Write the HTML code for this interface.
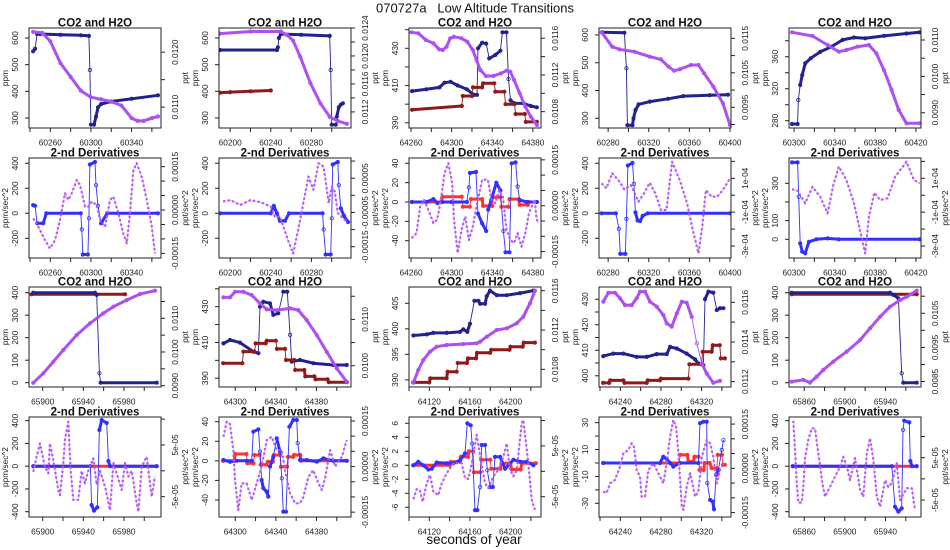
<!DOCTYPE html>
<html><head><meta charset="utf-8"><title>070727a Low Altitude Transitions</title>
<style>
html,body{margin:0;padding:0;background:#fff;}
svg{display:block;font-family:"Liberation Sans",Arial,sans-serif;}
</style></head>
<body>
<svg id="chart" width="950" height="550" viewBox="0 0 950 550" xmlns="http://www.w3.org/2000/svg">
<rect x="0" y="0" width="950" height="550" fill="#fff"/>
<text x="475" y="12.5" font-size="13" text-anchor="middle" fill="#111" xml:space="preserve">070727a   Low Altitude Transitions</text>
<text x="474" y="544" font-size="13.5" text-anchor="middle" fill="#111">seconds of year</text>
</svg>
<script>
// ---------- data: row 1 / row 2 (column 1) ----------
const p11_co2_x=[60243,60245,60247,60250,60270,60290,60298,60299,60300,60303,60305,60307,60310,60320,60340,60366];
const p11_co2_y=[550,560,615,615,612,610,608,480,275,275,305,340,352,362,372,385];
const p11_h2o_x=[60243,60252,60260,60270,60280,60290,60300,60310,60320,60330,60340,60346,60352,60360,60366];
const p11_h2o_y=[0.01237,0.01235,0.0122,0.0118,0.01155,0.0113,0.01118,0.01114,0.0111,0.01103,0.0108,0.01075,0.01075,0.0108,0.01083];
const p21_dco2_x=[60243,60245,60247,60253,60256,60290,60291,60292,60297,60298,60299,60304,60305,60307,60310,60316,60366];
const p21_dco2_y=[65,60,-80,-80,0,0,-130,-330,-330,-40,390,410,225,60,-80,0,0];
const p21_dh2o_x=[60243.2,60248.2,60254.8,60259.7,60264.6,60269.5,60274.5,60277.7,60281.1,60286,60289.2,60294.2,60297.4,60300.8,60305.7,60309,60313.9,60318.8,60322.1,60327,60331.9,60335.3,60338.5,60341.8,60345.1,60350,60355,60359.9,60363.1];
const p21_dh2o_y=[-2.9e-5,-5.8e-5,-1.04e-4,-1.33e-4,-1.04e-4,-3.5e-5,5.8e-5,3.5e-5,5.8e-5,1.04e-4,8.7e-5,1.2e-5,1.2e-5,2.9e-5,1.7e-5,-3.5e-5,-5.8e-5,3.5e-5,4.6e-5,-1.1e-5,-8.1e-5,-1.15e-4,-1.1e-5,1.38e-4,1.62e-4,1.15e-4,3.5e-5,-5.8e-5,-1.5e-4];
// column 2
const p12_co2_x=[60190,60246,60247,60248,60250,60270,60298,60299,60300,60304,60305,60307,60309,60311];
const p12_co2_y=[555,555,565,600,615,612,608,480,275,275,305,340,350,355];
const p12_co2b_x=[60190,60200,60220,60240];
const p12_co2b_y=[395,397,400,403];
const p12_h2o_x=[60190,60220,60250,60256,60262,60269,60279,60289,60298,60306,60315];
const p12_h2o_y=[0.01232,0.01235,0.01235,0.0123,0.01222,0.01199,0.01161,0.01132,0.01113,0.01107,0.01103];
const p22_dco2_x=[60190,60240,60243,60246,60249,60254,60258,60291,60292,60294,60299,60300,60301,60306,60307,60309,60312,60316];
const p22_dco2_y=[0,0,60,0,-60,-60,0,0,-130,-330,-330,-40,390,410,225,40,-20,-70];
const p22_dh2o_x=[60193,60200,60210,60220,60230,60240,60244,60249,60257,60262,60267,60272,60277,60282,60287,60292,60297,60300,60303,60306,60313,60316];
const p22_dh2o_y=[-1.8e-5,-1.4e-5,-2.8e-5,-1.4e-5,-2e-5,-3.3e-5,-6.2e-5,-6.2e-5,-1.31e-4,-1.7e-4,-1.01e-4,-2.3e-5,5.5e-5,1.6e-5,9.4e-5,8.4e-5,-2.3e-5,2.5e-5,1.1e-5,-5.2e-5,-7.2e-5,-7.7e-5];
// column 3
const p13_co2_x=[64261,64275,64288,64293,64299,64306,64315,64322,64325,64326,64330,64334,64337,64343,64348,64350,64354,64356,64358,64362,64371,64378,64384];
const p13_co2_y=[407,408,409,411.5,412,410,408,405,405,430,433,432.5,424.6,426.4,428.7,438.6,438.6,413.5,402,400.4,400.4,399,398.3];
const p13_co2b_x=[64261,64310,64311,64320,64321,64330,64331,64342,64343,64352,64353,64362,64363,64372,64373,64384];
const p13_co2b_y=[397,399,404.4,404.4,409,409,411.2,411.2,406.7,406.7,400,400,394.7,394.7,390.5,390.5];
const p13_h2o_x=[64260.6,64267.2,64274.6,64282,64287.6,64291.3,64295,64298.6,64302.3,64309.7,64315.3,64320.8,64324.5,64328.2,64333.7,64341,64348.5,64354,64357.8,64361.5,64367,64372.5,64378,64384];
const p13_h2o_y=[0.011665,0.011654,0.011581,0.011545,0.01148,0.011472,0.011508,0.0116,0.011617,0.0116,0.011563,0.011472,0.011363,0.011254,0.011189,0.011189,0.011218,0.011247,0.011236,0.011145,0.011,0.010855,0.010745,0.010655];
const p23_dco2_x=[64261,64275,64282,64286,64291,64300,64315,64317,64318,64324,64326,64330,64334,64336,64339,64344,64348,64351,64353,64357,64359,64363,64365,64367,64374,64384];
const p23_dco2_y=[0,0,3,-1,0,0,0,15,30,31,-12,-22,-30,-8,2,20,12,-30,-52,-52,40,41,16,2,0,0];
const p23_dco2b_x=[64261,64290,64291,64310,64311,64318,64319,64330,64331,64340,64341,64348,64349,64356,64357,64366,64367,64375,64376,64384];
const p23_dco2b_y=[0,0,5.5,5.5,-5,-5,3,3,-4,-4,5,5,-5,-5,3,3,-3,-3,0,0];
const p23_dh2o_x=[64260.6,64265.4,64269,64272.8,64278.3,64282,64285.7,64289.4,64293,64296.8,64300.5,64302.3,64306,64309.7,64313.4,64317,64320.8,64324.5,64330,64335.6,64339.3,64343,64346.7,64350.4,64354,64357.8,64361.5,64365,64368.8,64372.5,64376.2,64381.8,64383.6,64385];
const p23_dh2o_y=[-1.06e-4,-9e-5,-3e-6,1.9e-5,-2.4e-5,-5.7e-5,-4.6e-5,1.9e-5,1.06e-4,1.39e-4,7.4e-5,-4.6e-5,-1.55e-4,-7.9e-5,-3.5e-5,-1.12e-4,-6.8e-5,-3e-6,8.5e-5,8.5e-5,1.9e-5,8e-6,5.2e-5,3e-5,-7.9e-5,-1.12e-4,-1.22e-4,-9e-5,-1.34e-4,-9e-5,-2.4e-5,1.9e-5,-4.1e-5,-5.7e-5];
// column 4
const p14_co2_x=[60274,60296,60298,60299,60304,60305,60307,60310,60321,60339,60354,60380,60398];
const p14_co2_y=[610,608,480,275,275,300,330,350,360,370,380,383,385];
const p14_h2o_x=[60273.6,60284,60291.3,60306,60321,60332,60339.4,60345,60350.5,60361.5,60369,60374.5,60383.7,60393,60400];
const p14_h2o_y=[0.011674,0.011257,0.01118,0.011112,0.010967,0.01089,0.010677,0.010561,0.010601,0.010726,0.010726,0.010486,0.010097,0.009616,0.008987];
const p24_dco2_x=[60273.6,60287.6,60290.6,60292,60297,60298,60299.5,60304,60305.4,60306.8,60309,60311.6,60314,60319,60400];
const p24_dco2_y=[0,0,-125,-325,-325,-45,382,403,235,8,-58,-62,-20,0,0];
const p24_dh2o_x=[60273.6,60278.4,60284,60291.3,60295.8,60302.4,60309.8,60315.3,60320.9,60326.4,60332,60337.5,60343,60350.5,60357.8,60363.4,60369,60372.6,60376.3,60381.9,60387.4,60393,60400];
const p24_dh2o_y=[7e-5,4.1e-5,1.3e-4,8e-5,3.5e-5,6e-5,-3.8e-5,1.1e-5,7.4e-5,1.1e-5,-8.8e-5,-8.8e-5,1.98e-4,9e-5,-4.8e-5,-2.06e-4,-3.44e-4,-1.86e-4,3e-5,-9e-6,-9e-6,3e-5,1e-4];
// column 5
const p15_co2_x=[60298,60303.5,60304.2,60306,60308,60311,60316.4,60325.7,60336.8,60347.8,60359,60370,60388.5,60410.7,60423.6];
const p15_co2_y=[275.9,275.9,305.9,324.6,337,351.7,358,366,372.5,381,384,383,386,389,390.5];
const p15_h2o_x=[60298,60318,60333,60344,60351.5,60362.6,60373.7,60381,60388.5,60396,60403,60410.7,60423.6];
const p15_h2o_y=[0.011212,0.01111,0.010862,0.010678,0.010725,0.010816,0.010862,0.010634,0.010175,0.009624,0.009074,0.008708,0.008708];
const p25_dco2_x=[60298,60303.5,60304.6,60306,60308,60311,60314.6,60322,60333,60344,60423.6];
const p25_dco2_y=[412,412,228,-21,-66,-75,-13,0,5,0,0];
const p25_dh2o_x=[60298,60303.5,60311,60318,60325.7,60333,60338.6,60344,60351.5,60359,60365.6,60370,60373.7,60379,60384.8,60392,60399.6,60410.7,60418,60423.6];
const p25_dh2o_y=[3.5e-5,2.7e-5,-4.8e-5,5e-5,-9e-6,-1.07e-4,6e-5,1.69e-4,9e-5,-4.8e-5,-2.25e-4,-3.44e-4,-1.27e-4,1.5e-5,-2.8e-5,-1.8e-5,1.1e-4,1.98e-4,9e-5,7e-5];
// ---------- data: row 3 / row 4 ----------
const p31_co2_x=[65890.7,65951.5,65953.2,65955.8,65957,66012.3];
const p31_co2_y=[400,400,390,42,0,0];
const p31_co2b_x=[65889,65981];
const p31_co2b_y=[393,393];
const p31_h2o_x=[65890.7,65900.6,65910.4,65920.3,65933.5,65946.6,65959.7,65969.6,65982.8,65995.9,66010.6];
const p31_h2o_y=[0.009086,0.009366,0.00971,0.010058,0.010504,0.010851,0.011149,0.011345,0.011544,0.011722,0.01182];
const p41_dco2b_x=[65890.7,66012.3];
const p41_dco2b_y=[0,0];
const p41_dco2_x=[65890.7,65947,65948.2,65950.5,65953.8,65955.8,65958.1,65963,65964.7,65966.3,66012.3];
const p41_dco2_y=[0,0,-341,-391,-361,318,406,380,46,0,0];
const p41_dh2o_x=[65890.7,65894,65897.2,65902.2,65905.5,65907.1,65910.4,65915.3,65917,65920.3,65921.9,65925.2,65927.5,65930.1,65935,65938.3,65941.6,65944.9,65949.8,65953.2,65956.4,65961.4,65966.3,65969.6,65972.9,65977.8,65981,65984.4,65987.6,65992.6,65994.2,65997.5,66002.4,66005.7,66007.3,66010.6];
const p41_dh2o_y=[-2e-6,2.7e-5,5.3e-5,8e-6,-5e-6,5.3e-5,2.1e-5,-3.7e-5,-4.7e-5,1.5e-5,6e-5,9.5e-5,2e-6,-5.6e-5,-5.6e-5,0,-2.4e-5,0,2.4e-5,-2.7e-5,0,-3.1e-5,-7.6e-5,1.5e-5,-5e-6,-3.7e-5,1.5e-5,-1.1e-5,0,-6.3e-5,-7.9e-5,8e-6,2.7e-5,-2.4e-5,-5e-5,-1.1e-5];
// column 2
const p32_co2_x=[64288.3,64294.8,64304.7,64317.8,64322.8,64324.4,64327.6,64334.2,64337.5,64342.4,64347.3,64351.3,64354,64355.6,64363.8,64376.9,64396.6,64409.8];
const p32_co2_y=[409.5,411.4,409.9,404.9,404,430,432.8,431.9,425.4,426.3,438.4,438.4,414.2,399.3,400.2,398.4,397.4,397.4];
const p32_co2b_x=[64288,64307,64308,64319,64320,64330,64331,64340,64341,64349,64350,64358,64359,64368,64369,64378,64379,64391,64392,64410];
const p32_co2b_y=[398.4,398.4,404.9,404.9,409.5,409.5,411,411,406.4,406.4,400.2,400.2,394.6,394.6,391,391,389.4,389.4,387.8,387.8];
const p32_h2o_x=[64288.3,64294.8,64299.8,64308,64316.2,64324.4,64331,64340.8,64354,64362.1,64370.4,64380.3,64390.1,64400,64409.8];
const p32_h2o_y=[0.011475,0.011475,0.011596,0.011596,0.011525,0.011346,0.011216,0.011201,0.011238,0.011201,0.010985,0.010661,0.0103,0.009942,0.009652];
const p42_dco2b_x=[64288,64299,64300,64311,64312,64318,64319,64324,64325,64331,64332,64337,64338,64344,64345,64351,64352,64357,64358,64364,64365,64410];
const p42_dco2b_y=[0,0,7,7,-2.5,-2.5,6,6,-4,-4,-1,-1,6,6,-6,-6,4,4,6,6,0,0];
const p42_dco2_x=[64288.3,64294.8,64301.4,64311.3,64316.2,64317.8,64322.8,64324.4,64326,64327.6,64331,64332.6,64334.2,64337.5,64340.8,64344.1,64345.8,64347.3,64350,64353.3,64357.2,64360.6,64361.5,64363.8,64370.4,64380.3,64386.8,64396.6,64409.8];
const p42_dco2_y=[0.9,-1,0,0,0,29.8,32.2,9.4,-19.6,-28,-31.5,-36.6,-6,4.2,23,9.4,-17.8,-52,-52,34.9,41.7,41.7,18,0.9,0.9,-0.9,2.6,0,0];
const p42_dh2o_x=[64288.3,64291.6,64294.8,64298.1,64299.8,64303,64306.3,64311.3,64316.2,64321.1,64326,64331,64335.9,64340.8,64345.8,64349,64354,64358.9,64363.8,64367.1,64372,64376.9,64381.8,64385.2,64388.4,64393.4,64398.3,64404.9,64409.8];
const p42_dh2o_y=[9.8e-5,1.48e-4,1.4e-4,5.4e-5,-4.5e-5,-1.43e-4,-5.5e-5,-5.5e-5,-1.1e-4,-5.5e-5,0,8.7e-5,9.8e-5,5.4e-5,5.4e-5,-1.2e-5,-8.8e-5,-1.21e-4,-1.21e-4,-1e-4,-3.4e-5,-1.2e-5,-5.5e-5,-7.7e-5,-4e-5,5.4e-5,0,3.2e-5,8.7e-5];
// column 3
const p33_co2_x=[64104.3,64117.4,64124,64137.1,64150.2,64153.5,64157.4,64160.1,64164.4,64168.3,64170,64174.9,64176.5,64179.8,64186.4,64196.3,64209.4,64222.5];
const p33_co2_y=[398.7,398.9,399.2,399.2,399.4,399.9,399.4,401,405.5,405.5,404.9,404.9,406.4,407.5,406.6,406.6,407,407.5];
const p33_co2b_x=[64104,64120,64121,64137,64138,64147,64148,64157,64158,64166,64167,64180,64181,64199,64200,64212,64213,64224];
const p33_co2b_y=[389.5,389.5,390.3,390.3,391.6,391.6,393.3,393.3,394.2,394.2,395.3,395.3,395.9,395.9,396.5,396.5,397.3,397.3];
const p33_h2o_x=[64104.3,64109.2,64114.1,64120.7,64127.3,64137.1,64153.5,64166.7,64170,64176.5,64186.4,64196.3,64206.1,64212.6,64219.2,64224.1];
const p33_h2o_y=[0.010664,0.010793,0.010895,0.010979,0.01103,0.011048,0.011058,0.011065,0.011081,0.011132,0.0112,0.011218,0.011268,0.011336,0.011472,0.0116];
const p43_dco2b_x=[64104,64140,64141,64150,64151,64158,64159,64163,64164,64170,64171,64180,64181,64190,64191,64200,64201,64210,64211,64225];
const p43_dco2b_y=[0,0,0.5,0.5,1.2,1.2,2,2,-1,-1,0.8,0.8,-0.5,-0.5,0.3,0.3,-0.6,-0.6,0.3,0.3];
const p43_dco2_x=[64104.3,64109.2,64114.1,64119,64122.4,64127.3,64137.1,64143.7,64150.2,64155.2,64157.4,64160.8,64162.1,64165,64167.3,64170,64171.6,64174.9,64177.1,64179.8,64182.5,64184.7,64189.7,64194.6,64202.8,64209.4,64216,64222.5];
const p43_dco2_y=[0,0.5,0,-0.6,-0.5,0.4,0.3,0.3,0.7,1.7,6,5.7,3.1,-6.4,-6.4,-3.1,2.9,2.9,-0.7,-3.1,-3.1,1.2,1.2,-0.5,0.8,0.5,0.5,0];
const p43_dh2o_x=[64104.3,64107.6,64110.8,64113.5,64117.4,64120.7,64124,64128.9,64132.2,64137.1,64143.7,64151.9,64155.2,64158.5,64161.8,64166.7,64170,64174.9,64178.2,64183.1,64188,64192.9,64196.3,64199.5,64202.8,64206.1,64211,64212.6,64217.5,64220.9,64224.1];
const p43_dh2o_y=[-5.5e-5,-3.5e-5,-3.8e-5,-6e-5,-2.4e-5,-7e-6,-4e-5,-4.7e-5,-2.4e-5,-4e-6,1.6e-5,1.6e-5,-1.4e-5,-1.5e-5,1.6e-5,7.2e-5,2.9e-5,-2.4e-5,-3.3e-5,-1e-5,3e-6,2.9e-5,5.5e-5,3e-6,-1e-5,2e-6,9.5e-5,1.01e-4,1.6e-5,-5.7e-5,-7.6e-5];
// column 4
const p34_co2_x=[64223.2,64233.1,64243,64256.1,64266,64275.8,64285.7,64289,64295.6,64305.4,64313.6,64316.9,64321.8,64323.4,64326.7,64331.6,64335,64338.2,64341.5];
const p34_co2_y=[407.7,408.7,408.7,407.4,407.4,408.5,408.5,411.3,410.7,408.7,406.4,404.8,404.1,430,433,432.6,425.8,426.5,426.5];
const p34_co2b_x=[64223,64229,64230,64243,64244,64266,64267,64279,64280,64307,64308,64320,64321,64330,64331,64338,64339,64343];
const p34_co2b_y=[397.2,397.2,398.2,398.2,397.2,397.2,398.2,398.2,398.9,398.9,404.5,404.5,409.4,409.4,412,412,406.8,406.8];
const p34_h2o_x=[64223.2,64228.2,64234.8,64239.7,64244.6,64251.2,64256.1,64259.4,64264.3,64269.2,64275.8,64282.3,64285.7,64290.6,64295.6,64300.5,64305.4,64310.3,64315.3,64320.2,64325.1,64331.6,64338.2];
const p34_h2o_y=[0.011603,0.011648,0.011648,0.01162,0.011586,0.011586,0.01162,0.011654,0.011654,0.011603,0.011578,0.011536,0.011494,0.011477,0.011544,0.011603,0.011598,0.011527,0.011393,0.011292,0.011241,0.011194,0.011204];
const p44_dco2b_x=[64223,64298,64299,64306,64307,64312,64313,64317,64318,64322,64323,64328,64330,64335,64336,64340,64341,64343];
const p44_dco2b_y=[0,0,6,6,1,1,4.7,4.7,-5.2,-5.2,0,0,-3.9,-3.9,6,6,-1.4,-1.4];
const p44_dco2_x=[64223.2,64279.1,64282.3,64285.7,64289,64292.2,64298.8,64316.9,64318.5,64321.8,64325.1,64325.7,64328.4,64331,64332.3,64334.3,64336.6,64339.9,64341.5];
const p44_dco2_y=[0,0,4.7,3,0,-2.7,0,0,29.6,30.7,30.7,-15,-27.5,-28.8,-34.5,-8.9,-5.2,9.7,17];
const p44_dh2o_x=[64223.2,64226.5,64229.8,64234.8,64239.7,64243,64247.9,64251.2,64253.5,64256.1,64259.4,64261,64264.3,64267.6,64272.5,64279.1,64282.3,64285.7,64289,64292.2,64294.9,64297.2,64300.5,64302.1,64305.4,64308.7,64313.6,64316.9,64320.2,64325.1,64328.4,64331.6,64335,64338.2,64341.5];
const p44_dh2o_y=[-7.9e-5,-8.4e-5,-5.1e-5,-3.9e-5,5e-6,5.1e-5,6.2e-5,8.5e-5,7.3e-5,-6e-6,-2.8e-5,-9.6e-5,-9.6e-5,-6e-6,1.7e-5,-2.8e-5,-5.1e-5,1.7e-5,1.07e-4,1.64e-4,1.41e-4,5.1e-5,-1.3e-4,-1.41e-4,-6.2e-5,-1.7e-5,-9.6e-5,-7.9e-5,3.9e-5,9.6e-5,8.5e-5,3.9e-5,-5.1e-5,-6e-6,1.7e-5];
// column 5
const p35_co2_x=[65847.7,65944.5,65947.8,65952.7,65956,65957.6,65970.8];
const p35_co2_y=[400,400,390,375,42,0,0];
const p35_co2b_x=[65847.7,65970.8];
const p35_co2b_y=[393,393];
const p35_h2o_x=[65847.7,65859.1,65865.7,65872.3,65878.8,65888.6,65901.8,65915,65924.8,65934.7,65944.5,65954.4,65961,65970.8];
const p35_h2o_y=[0.008497,0.008547,0.008468,0.008644,0.00884,0.009083,0.009376,0.009718,0.010061,0.0104,0.010693,0.010889,0.010986,0.011162];
const p45_dco2b_x=[65848.6,65970.8];
const p45_dco2b_y=[0,0];
const p45_dco2_x=[65848.6,65946.2,65949.4,65952.7,65956,65957.3,65958.5,65963.5,65964.5,65966,65970.8];
const p45_dco2_y=[0,0,-356,-400,-370,320,400,385,46,0,0];
const p45_dh2o_x=[65849.2,65850.9,65852.6,65854.2,65857.5,65859.1,65860.8,65864,65867.4,65870.6,65873,65875.5,65877.8,65880.5,65885.4,65890.3,65895.2,65898.5,65902.4,65905.1,65910,65915,65918.2,65921.6,65924.8,65928.1,65931.5,65934.7,65939.6,65942.8,65946.2,65951.1,65954.4,65961,65965.9,65969.2];
const p45_dh2o_y=[1.37e-4,7e-5,-9e-6,-5.6e-5,-5.6e-5,-2e-5,4.9e-5,9.2e-5,1.19e-4,1.19e-4,7.6e-5,3.3e-5,-1e-5,-4.2e-5,-1.9e-5,5e-6,2.9e-5,5.2e-5,2.5e-5,-3e-6,4.9e-5,-2.6e-5,-4.2e-5,6e-5,9.6e-5,4.5e-5,-4.2e-5,-6.6e-5,-3e-6,-1.9e-5,-1e-5,3.7e-5,-5e-5,-2.2e-5,-2.2e-5,-7.4e-5];

// ---------- panel layout ----------
const TOPS=[28,158,287,417], LEFTS=[29,219,409,599,789], PW=132, PH=100, XSPAN=130;
const T1='CO2 and H2O', T2='2-nd Derivatives';
const d1L=[-200,0,200,400];
const rD15=[-1.5e-4,-1e-4,-5e-5,0,5e-5,1e-4,1.5e-4];
const panels=[
 {id:'p11',r:0,c:0,t:T1,L:60239,x0:60260,yl:[262.5,637.5],ylT:[300,400,500,600],ylL:[300,400,500,600],yr:[0.01062,0.01244],yrT:[0.011,0.0115,0.012],yrL:[0.011,0.012],yrS:['0.0110','0.0120'],la:'ppm',ra:'ppt',
  s:[[p11_co2_x,p11_co2_y,'L','nv'],[p11_h2o_x,p11_h2o_y,'R','pu']]},
 {id:'p12',r:0,c:1,t:T1,L:60189,x0:60200,yl:[262.5,637.5],ylT:[300,400,500,600],ylL:[300,400,500,600],yr:[0.01097,0.0124],yrT:[0.0112,0.0114,0.0116,0.0118,0.012,0.0122,0.0124],yrL:[0.0112,0.0116,0.012,0.0124],yrS:['0.0112','0.0116','0.0120','0.0124'],la:'ppm',ra:'ppt',
  s:[[p12_co2_x,p12_co2_y,'L','nv'],[p12_co2b_x,p12_co2b_y,'L','dr'],[p12_h2o_x,p12_h2o_y,'R','pu']]},
 {id:'p13',r:0,c:2,t:T1,L:64258,x0:64260,yl:[387.2,440.9],ylT:[390,400,410,420,430,440],ylL:[390,410,430],yr:[0.010622,0.011712],yrT:[0.0108,0.011,0.0112,0.0114,0.0116],yrL:[0.0108,0.0112,0.0116],yrS:['0.0108','0.0112','0.0116'],la:'ppm',ra:'ppt',
  s:[[p13_co2_x,p13_co2_y,'L','nv'],[p13_co2b_x,p13_co2b_y,'L','dr'],[p13_h2o_x,p13_h2o_y,'R','pu']]},
 {id:'p14',r:0,c:3,t:T1,L:60271,x0:60280,yl:[265,625],ylT:[300,400,500,600],ylL:[300,400,500,600],yr:[0.0089,0.0118],yrT:[0.009,0.0095,0.01,0.0105,0.011,0.0115],yrL:[0.0095,0.0105,0.0115],yrS:['0.0095','0.0105','0.0115'],la:'ppm',ra:'ppt',
  s:[[p14_co2_x,p14_co2_y,'L','nv'],[p14_h2o_x,p14_h2o_y,'R','pu']]},
 {id:'p15',r:0,c:4,t:T1,L:60295,x0:60300,yl:[270.9,395.9],ylT:[280,300,320,340,360,380],ylL:[280,320,360],yr:[0.00858,0.01133],yrT:[0.009,0.0095,0.01,0.0105,0.011],yrL:[0.009,0.01,0.011],yrS:['0.0090','0.0100','0.0110'],la:'ppm',ra:'ppt',
  s:[[p15_co2_x,p15_co2_y,'L','nv'],[p15_h2o_x,p15_h2o_y,'R','pu']]},
 {id:'p21',r:1,c:0,t:T2,L:60239,x0:60260,yl:[-357.6,442],ylT:d1L,ylL:d1L,yr:[-0.000166,0.00018],yrT:rD15,yrL:[-1.5e-4,0,1.5e-4],yrS:['-0.00015','0.00000','0.00015'],la:'ppm/sec^2',ra:'ppt/sec^2',
  s:[[p21_dco2_x,p21_dco2_y,'L','bl'],[p21_dh2o_x,p21_dh2o_y,'R','pd']]},
 {id:'p22',r:1,c:1,t:T2,L:60189,x0:60200,yl:[-357.6,442],ylT:d1L,ylL:d1L,yr:[-0.000183,0.000109],yrT:[-1.5e-4,-1e-4,-5e-5,0,5e-5,1e-4],yrL:[-1.5e-4,-5e-5,5e-5],yrS:['-0.00015','-0.00005','0.00005'],la:'ppm/sec^2',ra:'ppt/sec^2',
  s:[[p22_dco2_x,p22_dco2_y,'L','bl'],[p22_dh2o_x,p22_dh2o_y,'R','pd']]},
 {id:'p23',r:1,c:2,t:T2,L:64258,x0:64260,yl:[-57.9,45.5],ylT:[-40,-20,0,20,40],ylL:[-40,-20,0,20,40],yr:[-0.000171,0.000156],yrT:rD15,yrL:[-1.5e-4,0,1.5e-4],yrS:['-0.00015','0.00000','0.00015'],la:'ppm/sec^2',ra:'ppt/sec^2',
  s:[[p23_dco2b_x,p23_dco2b_y,'L','rd'],[p23_dco2_x,p23_dco2_y,'L','bl'],[p23_dh2o_x,p23_dh2o_y,'R','pd']]},
 {id:'p24',r:1,c:3,t:T2,L:60271,x0:60280,yl:[-357.6,442],ylT:d1L,ylL:d1L,yr:[-3.71e-4,2.2e-4],yrT:[-3e-4,-2e-4,-1e-4,0,1e-4,2e-4],yrL:[-3e-4,-1e-4,1e-4],yrS:['-3e-04','-1e-04','1e-04'],la:'ppm/sec^2',ra:'ppt/sec^2',
  s:[[p24_dco2_x,p24_dco2_y,'L','bl'],[p24_dh2o_x,p24_dh2o_y,'R','pd']]},
 {id:'p25',r:1,c:4,t:T2,L:60295,x0:60300,yl:[-100,435.6],ylT:[0,100,200,300],ylL:[0,100,300],yr:[-3.71e-4,2.2e-4],yrT:[-3e-4,-2e-4,-1e-4,0,1e-4,2e-4],yrL:[-3e-4,-1e-4,1e-4],yrS:['-3e-04','-1e-04','1e-04'],la:'ppm/sec^2',ra:'ppt/sec^2',
  s:[[p25_dco2_x,p25_dco2_y,'L','bl'],[p25_dh2o_x,p25_dh2o_y,'R','pd']]},
 {id:'p31',r:2,c:0,t:T1,L:65886.5,x0:65900,yl:[-19.1,425.3],ylT:[0,100,200,300,400],ylL:[0,100,200,300,400],yr:[0.00896,0.01193],yrT:[0.009,0.0095,0.01,0.0105,0.011,0.0115],yrL:[0.009,0.01,0.011],yrS:['0.0090','0.0100','0.0110'],la:'ppm',ra:'ppt',
  s:[[p31_co2b_x,p31_co2b_y,'L','dr'],[p31_co2_x,p31_co2_y,'L','nv'],[p31_h2o_x,p31_h2o_y,'R','pu']]},
 {id:'p32',r:2,c:1,t:T1,L:64284,x0:64300,yl:[385.1,441],ylT:[390,400,410,420,430,440],ylL:[390,410,430],yr:[0.00954,0.0117],yrT:[0.01,0.0105,0.011,0.0115],yrL:[0.01,0.011],yrS:['0.0100','0.0110'],la:'ppm',ra:'ppt',
  s:[[p32_co2_x,p32_co2_y,'L','nv'],[p32_co2b_x,p32_co2b_y,'L','dr'],[p32_h2o_x,p32_h2o_y,'R','pu']]},
 {id:'p33',r:2,c:2,t:T1,L:64100,x0:64120,yl:[388.6,408.2],ylT:[390,395,400,405],ylL:[390,395,400,405],yr:[0.01062,0.011638],yrT:[0.0108,0.011,0.0112,0.0114,0.0116],yrL:[0.0108,0.0112,0.0116],yrS:['0.0108','0.0112','0.0116'],la:'ppm',ra:'ppt',
  s:[[p33_co2_x,p33_co2_y,'L','nv'],[p33_co2b_x,p33_co2b_y,'L','dr'],[p33_h2o_x,p33_h2o_y,'R','pu']]},
 {id:'p34',r:2,c:3,t:T1,L:64219,x0:64240,yl:[395.6,434.8],ylT:[400,405,410,415,420,425,430],ylL:[400,410,420,430],yr:[0.011173,0.011677],yrT:[0.0112,0.0113,0.0114,0.0115,0.0116],yrL:[0.0112,0.0114,0.0116],yrS:['0.0112','0.0114','0.0116'],la:'ppm',ra:'ppt',
  s:[[p34_co2_x,p34_co2_y,'L','nv'],[p34_co2b_x,p34_co2b_y,'L','dr'],[p34_h2o_x,p34_h2o_y,'R','pu']]},
 {id:'p35',r:2,c:4,t:T1,L:65845,x0:65860,yl:[-19.1,425.3],ylT:[0,100,200,300,400],ylL:[0,100,200,300,400],yr:[0.00834,0.01127],yrT:[0.0085,0.009,0.0095,0.01,0.0105,0.011],yrL:[0.0085,0.0095,0.0105],yrS:['0.0085','0.0095','0.0105'],la:'ppm',ra:'ppt',
  s:[[p35_co2b_x,p35_co2b_y,'L','dr'],[p35_co2_x,p35_co2_y,'L','nv'],[p35_h2o_x,p35_h2o_y,'R','pu']]},
 {id:'p41',r:3,c:0,t:T2,L:65886.5,x0:65900,yl:[-446.6,432.5],ylT:[-400,-200,0,200,400],ylL:[-400,-200,0,200,400],yr:[-8.93e-5,1.04e-4],yrT:[-5e-5,0,5e-5,1e-4],yrL:[-5e-5,5e-5],yrS:['-5e-05','5e-05'],la:'ppm/sec^2',ra:'ppt/sec^2',
  s:[[p41_dco2b_x,p41_dco2b_y,'L','rd'],[p41_dco2_x,p41_dco2_y,'L','bl'],[p41_dh2o_x,p41_dh2o_y,'R','pd']]},
 {id:'p42',r:3,c:1,t:T2,L:64284,x0:64300,yl:[-57.4,44.8],ylT:[-40,-20,0,20,40],ylL:[-40,-20,0,20,40],yr:[-0.000166,0.000163],yrT:rD15,yrL:[-1.5e-4,0,1.5e-4],yrS:['-0.00015','0.00000','0.00015'],la:'ppm/sec^2',ra:'ppt/sec^2',
  s:[[p42_dco2b_x,p42_dco2b_y,'L','rd'],[p42_dco2_x,p42_dco2_y,'L','bl'],[p42_dh2o_x,p42_dh2o_y,'R','pd']]},
 {id:'p43',r:3,c:2,t:T2,L:64100,x0:64120,yl:[-7.39,6.9],ylT:[-6,-4,-2,0,2,4,6],ylL:[-6,-4,-2,0,2,4,6],yr:[-9e-5,1.07e-4],yrT:[-5e-5,0,5e-5,1e-4],yrL:[-5e-5,5e-5],yrS:['-5e-05','5e-05'],la:'ppm/sec^2',ra:'ppt/sec^2',
  s:[[p43_dco2b_x,p43_dco2b_y,'L','rd'],[p43_dco2_x,p43_dco2_y,'L','bl'],[p43_dh2o_x,p43_dh2o_y,'R','pd']]},
 {id:'p44',r:3,c:3,t:T2,L:64219,x0:64240,yl:[-40.2,34.2],ylT:[-30,-20,-10,0,10,20,30],ylL:[-30,-10,10,30],yr:[-0.000165,0.000174],yrT:rD15,yrL:[-1.5e-4,0,1.5e-4],yrS:['-0.00015','0.00000','0.00015'],la:'ppm/sec^2',ra:'ppt/sec^2',
  s:[[p44_dco2b_x,p44_dco2b_y,'L','rd'],[p44_dco2_x,p44_dco2_y,'L','bl'],[p44_dh2o_x,p44_dh2o_y,'R','pd']]},
 {id:'p45',r:3,c:4,t:T2,L:65845,x0:65860,yl:[-446.6,432.5],ylT:[-400,-200,0,200,400],ylL:[-400,-200,0,200,400],yr:[-9e-5,1.46e-4],yrT:[-5e-5,0,5e-5,1e-4],yrL:[-5e-5,5e-5],yrS:['-5e-05','5e-05'],la:'ppm/sec^2',ra:'ppt/sec^2',
  s:[[p45_dco2b_x,p45_dco2b_y,'L','rd'],[p45_dco2_x,p45_dco2_y,'L','bl'],[p45_dh2o_x,p45_dh2o_y,'R','pd']]}
];
const COLORS={nv:'#22228e',dr:'#901818',pu:'#ac50f0',bl:'#3030ff',rd:'#ff3030',pd:'#b458f0'};
const NAMES={nv:'co2-series',dr:'co2-secondary-series',pu:'h2o-series',bl:'co2-derivative-series',rd:'co2-secondary-derivative-series',pd:'h2o-derivative-series'};
const FS=8.3;

const NS='http://www.w3.org/2000/svg';
const svg=document.getElementById('chart');
function mk(tag,attrs,parent){const e=document.createElementNS(NS,tag);for(const k in attrs)e.setAttribute(k,attrs[k]);parent.appendChild(e);return e;}
function fmt(v){return String(Math.round(v*1000)/1000);}

panels.forEach(p=>{
  const left=LEFTS[p.c], top=TOPS[p.r], right=left+PW, bottom=top+PH;
  const sx=v=>left+(v-p.L)*PW/XSPAN;
  const syL=v=>bottom-(v-p.yl[0])/(p.yl[1]-p.yl[0])*PH;
  const syR=v=>bottom-(v-p.yr[0])/(p.yr[1]-p.yr[0])*PH;
  const g=mk('g',{},svg);
  
  
  const cp=mk('clipPath',{id:'clip-'+p.id},g);
  const cr=mk('rect',{x:left,y:top,width:PW,height:PH},cp);
  
  
  const plot=mk('g',{'clip-path':'url(#clip-'+p.id+')'},g);
  
  
  p.s.forEach(s=>{
    const xs=s[0], ys=s[1], sy=s[2]==='R'?syR:syL, st=s[3], col=COLORS[st];
    const n=Math.min(xs.length,ys.length);
    const pts=[];for(let i=0;i<n;i++)pts.push([sx(xs[i]),sy(ys[i])]);
    const sg=mk('g',{},plot);
    
    
    if(st==='pd'){
      const d='M'+pts.map(q=>q[0].toFixed(1)+','+q[1].toFixed(1)).join(' L');
      const th=mk('path',{d:d,fill:'none',stroke:col,'stroke-width':0.6,'stroke-opacity':0.7},sg);
      
      
      const dt=mk('path',{d:d,fill:'none',stroke:col,'stroke-width':2.2,'stroke-dasharray':'2.2 2.4','stroke-linejoin':'round'},sg);
      
      
      return;
    }
    let dThick='', dThin='', open=false;
    for(let i=0;i<n-1;i++){
      const a=pts[i], b=pts[i+1], dx=Math.abs(b[0]-a[0]), dy=Math.abs(b[1]-a[1]);
      const jump=dy>3*dx+4;
      if(jump){dThin+='M'+a[0].toFixed(1)+','+a[1].toFixed(1)+' L'+b[0].toFixed(1)+','+b[1].toFixed(1)+' ';open=false;}
      else{if(!open){dThick+='M'+a[0].toFixed(1)+','+a[1].toFixed(1)+' ';open=true;}dThick+='L'+b[0].toFixed(1)+','+b[1].toFixed(1)+' ';}
    }
    if(dThin){const t=mk('path',{d:dThin,fill:'none',stroke:col,'stroke-width':0.9},sg);
      
      }
    if(dThick){const t=mk('path',{d:dThick,fill:'none',stroke:col,'stroke-width':3,'stroke-linecap':'round','stroke-linejoin':'round'},sg);
      
      }
    pts.forEach(q=>{const c=mk('circle',{cx:q[0].toFixed(1),cy:q[1].toFixed(1),r:1.7,fill:'none',stroke:col,'stroke-width':0.8},sg);
      
      });
  });
  const box=mk('rect',{x:left,y:top,width:PW,height:PH,fill:'none',stroke:'#222','stroke-width':1},g);
  
  
  const title=mk('text',{x:left+PW/2,y:top-1.5,'font-size':11.5,'font-weight':'bold','text-anchor':'middle',fill:'#111'},g);
  title.textContent=p.t;
  
  
  for(let v=Math.ceil(p.L/20)*20; v<=p.L+XSPAN; v+=20){
    const x=sx(v);
    const tk=mk('line',{x1:x,y1:bottom,x2:x,y2:bottom+4,stroke:'#222','stroke-width':1},g);
    
    
    if((((v-p.x0)%40)+40)%40===0){
      const tl=mk('text',{x:x,y:bottom+17.5,'font-size':FS,'text-anchor':'middle',fill:'#222'},g);
      tl.textContent=String(v);
      
      
    }
  }
  p.ylT.forEach(v=>{const y=syL(v);
    const tk=mk('line',{x1:left-4,y1:y,x2:left,y2:y,stroke:'#222','stroke-width':1},g);
    
    });
  p.ylL.forEach(v=>{const y=syL(v), x=left-11;
    const tl=mk('text',{x:x,y:y,'font-size':FS,'text-anchor':'middle',fill:'#222',transform:'rotate(-90 '+x+' '+y.toFixed(1)+')'},g);
    tl.textContent=fmt(v);
    
    });
  const lt=mk('text',{x:left-21,y:top+PH/2,'font-size':FS,'text-anchor':'middle',fill:'#222',transform:'rotate(-90 '+(left-21)+' '+(top+PH/2)+')'},g);
  lt.textContent=p.la;
  
  
  p.yrT.forEach(v=>{const y=syR(v);
    const tk=mk('line',{x1:right,y1:y,x2:right+4,y2:y,stroke:'#222','stroke-width':1},g);
    
    });
  p.yrL.forEach((v,i)=>{const y=syR(v), x=right+17;
    const tl=mk('text',{x:x,y:y,'font-size':FS,'text-anchor':'middle',fill:'#222',transform:'rotate(-90 '+x+' '+y.toFixed(1)+')'},g);
    tl.textContent=p.yrS[i];
    
    });
  const rt=mk('text',{x:right+27,y:top+PH/2,'font-size':FS,'text-anchor':'middle',fill:'#222',transform:'rotate(-90 '+(right+27)+' '+(top+PH/2)+')'},g);
  rt.textContent=p.ra;
  
  
});
</script>
</body></html>
